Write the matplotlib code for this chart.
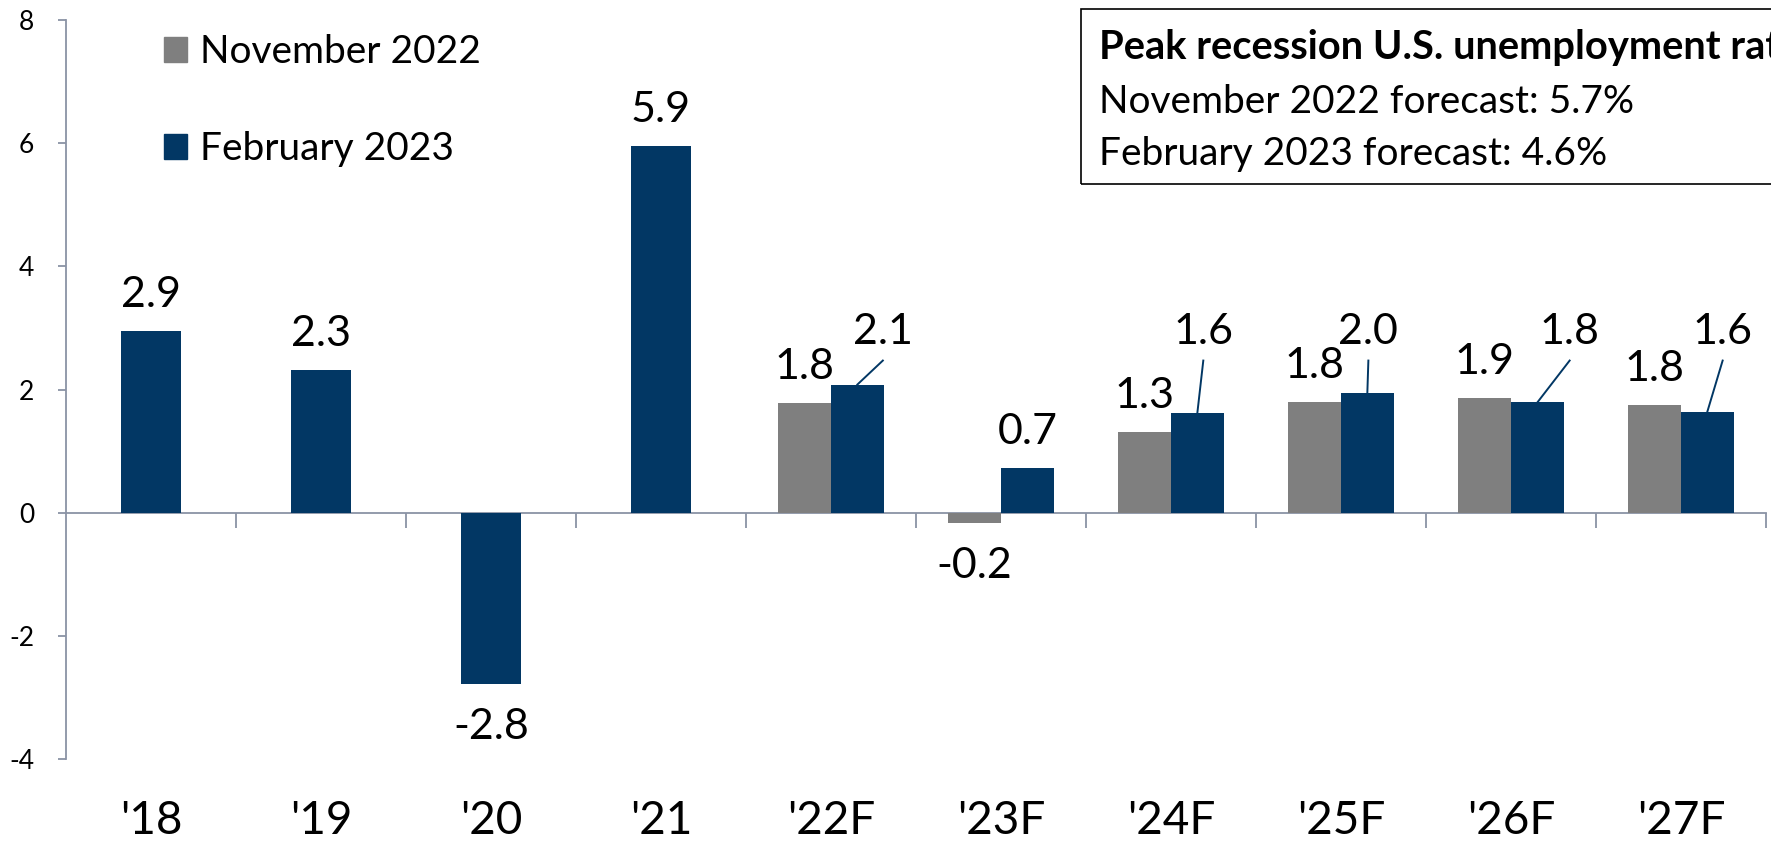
import matplotlib
matplotlib.use("Agg")
import matplotlib.pyplot as plt
from matplotlib.patches import Patch, Rectangle

plt.rcParams['font.family'] = ['Lato', 'DejaVu Sans']
plt.rcParams['axes.unicode_minus'] = False

# data
hist_years = ["'18", "'19", "'20", "'21"]
hist_vals = [2.95, 2.31, -2.79, 5.96]
hist_labels = ["2.9", "2.3", "-2.8", "5.9"]

fc_years = ["'22F", "'23F", "'24F", "'25F", "'26F", "'27F"]
nov22 = [1.78, -0.16, 1.31, 1.80, 1.87, 1.75]
nov22_labels = ["1.8", "-0.2", "1.3", "1.8", "1.9", "1.8"]
feb23 = [2.08, 0.73, 1.62, 1.95, 1.79, 1.64]
feb23_labels = ["2.1", "0.7", "1.6", "2.0", "1.8", "1.6"]

box_title = "Peak recession U.S. unemployment rate"
box_lines = ["November 2022 forecast: 5.7%", "February 2023 forecast: 4.6%"]

# layout / style
navy = '#023764'
grey = '#7f7f7f'
axis_col = '#8a93a5'
W, H = 1771, 842
# horizontal shift (in categories) of the leader-line labels, None = plain label
lead_dx = [0.15, None, 0.035, 0.006, 0.19, 0.09]
lead_label_y = 2.74
lead_end_y = 2.47

fig = plt.figure(figsize=(W / 100, H / 100), dpi=100)
ax = fig.add_axes([66 / W, (H - 759) / H, 1700 / W, (759 - 20) / H])

years = hist_years + fc_years
centers = [i + 0.5 for i in range(len(years))]
hx = centers[:len(hist_years)]
fx = centers[len(hist_years):]

w1 = 0.353
w2 = 0.31
ax.bar(hx, hist_vals, width=w1, color=navy, zorder=3)
ax.bar([x - w2 / 2 for x in fx], nov22, width=w2, color=grey, zorder=3)
ax.bar([x + w2 / 2 for x in fx], feb23, width=w2, color=navy, zorder=3)

lab_fs = 31


def put_label(x, v, s):
    if v >= 0:
        ax.annotate(s, (x, v), xytext=(0, 24), textcoords='offset pixels',
                    ha='center', va='baseline', fontsize=lab_fs)
    else:
        ax.annotate(s, (x, v), xytext=(0, -24), textcoords='offset pixels',
                    ha='center', va='top', fontsize=lab_fs)


for x, v, s in zip(hx, hist_vals, hist_labels):
    put_label(x, v, s)
for x, v, s in zip(fx, nov22, nov22_labels):
    put_label(x - w2 / 2, v, s)
for x, v, s, dx in zip(fx, feb23, feb23_labels, lead_dx):
    bx = x + w2 / 2
    if dx is None:
        put_label(bx, v, s)
    else:
        ax.plot([bx, bx + dx], [v, lead_end_y], color=navy, lw=1.4, zorder=4)
        ax.text(bx + dx, lead_label_y, s, ha='center', va='baseline', fontsize=lab_fs)

ax.set_xlim(0, len(years))
ax.set_ylim(-4, 8)

for s in ['top', 'right']:
    ax.spines[s].set_visible(False)
ax.spines['left'].set_color(axis_col)
ax.spines['left'].set_linewidth(1.3)
ax.spines['bottom'].set_position(('data', 0))
ax.spines['bottom'].set_color(axis_col)
ax.spines['bottom'].set_linewidth(1.3)

ax.set_yticks(range(-4, 9, 2))
ax.tick_params(axis='y', length=6, width=1.3, color=axis_col, pad=17, labelsize=19)

ax.set_xticks(centers)
ax.set_xticklabels(years)
ax.set_xticks(range(1, len(years) + 1), minor=True)
ax.tick_params(axis='x', which='major', length=0, pad=207, labelsize=33)
ax.tick_params(axis='x', which='minor', length=11, width=1.3, color=axis_col, direction='out')

handles = [Patch(color=grey), Patch(color=navy)]
fig.legend(handles, ["November 2022", "February 2023"], loc='upper left',
           bbox_to_anchor=(164 / W, 1 - 34 / H), frameon=False, fontsize=28,
           handlelength=0.6, handleheight=0.6, handletextpad=0.32,
           labelspacing=1.58, borderpad=0, borderaxespad=0)

# annotation box, runs off the right edge
fig.patches.append(Rectangle((1081 / W, (H - 184) / H), 0.5, 175 / H,
                             transform=fig.transFigure, fill=False,
                             edgecolor='black', lw=1.2, clip_on=False))
fig.text(1099 / W, 1 - 59 / H, box_title, fontsize=28.7, fontweight='bold',
         va='baseline', ha='left')
fig.text(1099 / W, 1 - 113 / H, box_lines[0], fontsize=28, va='baseline', ha='left')
fig.text(1099 / W, 1 - 165 / H, box_lines[1], fontsize=28, va='baseline', ha='left')

fig.savefig('out.png', dpi=100)
